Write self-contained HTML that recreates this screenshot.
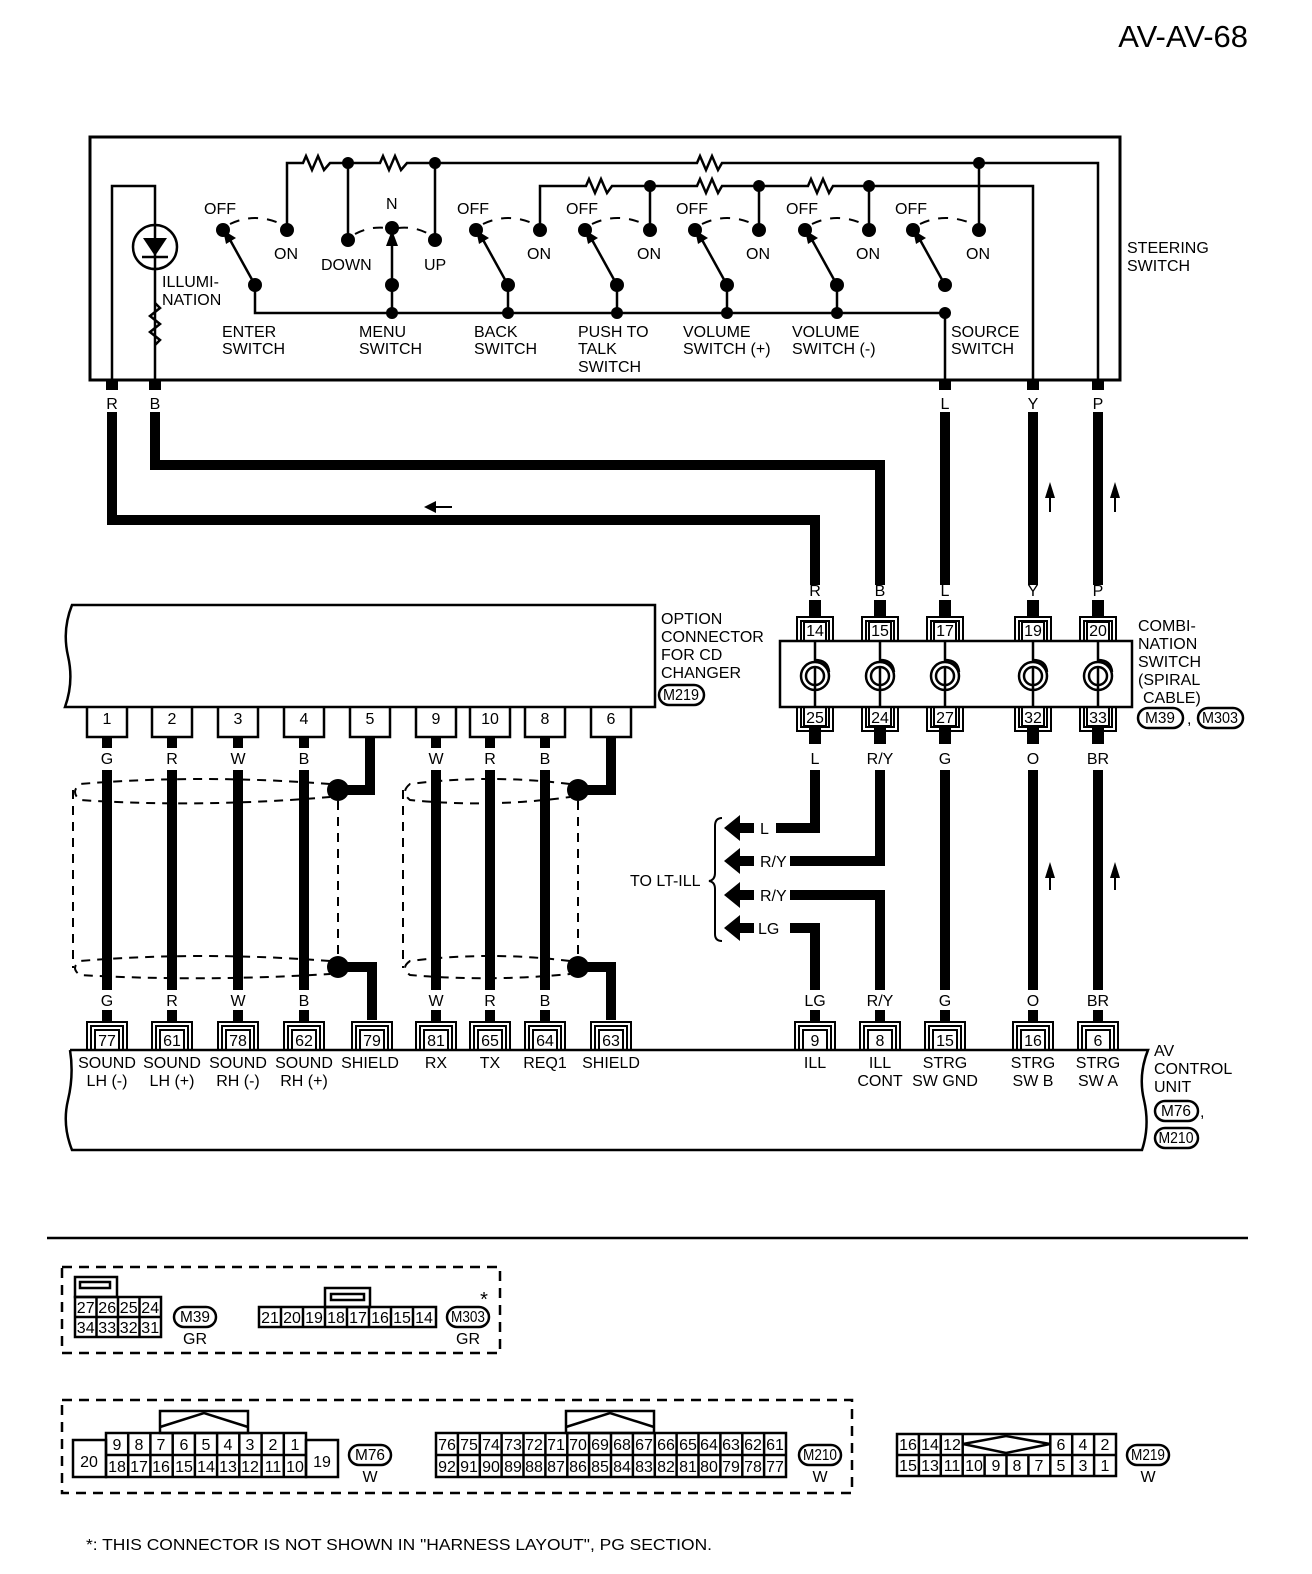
<!DOCTYPE html>
<html><head><meta charset="utf-8"><style>
html,body{margin:0;padding:0;background:#fff}
svg{display:block}
text{font-family:"Liberation Sans",sans-serif;font-size:16px;fill:#000}
.s{font-size:15px}
.t{font-size:13px}
.o{font-size:12px}
</style></head><body>
<svg width="1312" height="1574" viewBox="0 0 1312 1574" xmlns="http://www.w3.org/2000/svg">
<text x="1248" y="47" text-anchor="end" style="font-size:31px">AV-AV-68</text>

<rect x="90" y="137" width="1030" height="243" fill="none" stroke="#000" stroke-width="3"/>
<g fill="none" stroke="#000" stroke-width="2.5">
<polyline points="112,380 112,186 155,186 155,380"/>
<polyline points="287,230 287,163 303,163 306,156 312,170 318,156 324,170 330,163 380,163 383,156 389,170 395,156 401,170 407,163 697,163 700,156 706,170 712,156 718,170 722,163 1098,163 1098,380"/>
<line x1="348" y1="163" x2="348" y2="240"/>
<line x1="435" y1="163" x2="435" y2="240"/>
<line x1="979" y1="163" x2="979" y2="230"/>
<polyline points="540,230 540,186 586,186 589,179 595,193 601,179 607,193 612,186 697,186 700,179 706,193 712,179 718,193 722,186 808,186 811,179 817,193 823,179 829,193 833,186 1033,186 1033,380"/>
<line x1="650" y1="186" x2="650" y2="230"/>
<line x1="759" y1="186" x2="759" y2="230"/>
<line x1="869" y1="186" x2="869" y2="230"/>
<polyline points="255,285 255,313 945,313 945,380"/>
<line x1="392" y1="240" x2="392" y2="313"/>
<line x1="508" y1="285" x2="508" y2="313"/>
<line x1="617" y1="285" x2="617" y2="313"/>
<line x1="727" y1="285" x2="727" y2="313"/>
<line x1="837" y1="285" x2="837" y2="313"/>
<polyline points="155,303 160,308 150,316 160,324 150,332 160,340 155,345"/>
<line x1="255" y1="285" x2="229" y2="238"/>
<line x1="508" y1="285" x2="482" y2="238"/>
<line x1="617" y1="285" x2="591" y2="238"/>
<line x1="727" y1="285" x2="701" y2="238"/>
<line x1="837" y1="285" x2="811" y2="238"/>
<line x1="945" y1="285" x2="919" y2="238"/>
<g stroke-dasharray="10,9" stroke-width="2">
<path d="M230,224 Q255,212 281,224"/>
<path d="M483,224 Q508,212 534,224"/>
<path d="M592,224 Q617,212 644,224"/>
<path d="M702,224 Q727,212 753,224"/>
<path d="M812,224 Q837,212 863,224"/>
<path d="M920,224 Q945,212 973,224"/>
<path d="M355,234 Q370,226 386,228"/>
<path d="M398,228 Q414,226 429,234"/>
</g>
<circle cx="155" cy="247" r="22"/>
</g>
<polygon points="143,238 167,238 155,256" fill="#000"/>
<line x1="142" y1="257" x2="168" y2="257" stroke="#000" stroke-width="2.5"/>
<g fill="#000">
<polygon points="223,230 236,238 226,244"/>
<polygon points="476,230 489,238 479,244"/>
<polygon points="585,230 598,238 588,244"/>
<polygon points="695,230 708,238 698,244"/>
<polygon points="805,230 818,238 808,244"/>
<polygon points="913,230 926,238 916,244"/>
<polygon points="392,230 386,246 398,246"/>
<circle cx="223" cy="230" r="7"/><circle cx="287" cy="230" r="7"/><circle cx="255" cy="285" r="7"/>
<circle cx="348" cy="240" r="7"/><circle cx="392" cy="228" r="7"/><circle cx="435" cy="240" r="7"/><circle cx="392" cy="285" r="7"/>
<circle cx="476" cy="230" r="7"/><circle cx="540" cy="230" r="7"/><circle cx="508" cy="285" r="7"/>
<circle cx="585" cy="230" r="7"/><circle cx="650" cy="230" r="7"/><circle cx="617" cy="285" r="7"/>
<circle cx="695" cy="230" r="7"/><circle cx="759" cy="230" r="7"/><circle cx="727" cy="285" r="7"/>
<circle cx="805" cy="230" r="7"/><circle cx="869" cy="230" r="7"/><circle cx="837" cy="285" r="7"/>
<circle cx="913" cy="230" r="7"/><circle cx="979" cy="230" r="7"/><circle cx="945" cy="285" r="7"/>
<circle cx="348" cy="163" r="6"/><circle cx="435" cy="163" r="6"/><circle cx="979" cy="163" r="6"/>
<circle cx="650" cy="186" r="6"/><circle cx="759" cy="186" r="6"/><circle cx="869" cy="186" r="6"/>
<circle cx="392" cy="313" r="6"/><circle cx="508" cy="313" r="6"/><circle cx="617" cy="313" r="6"/><circle cx="727" cy="313" r="6"/><circle cx="837" cy="313" r="6"/><circle cx="945" cy="313" r="6"/>
<rect x="106" y="380" width="12" height="10"/><rect x="149" y="380" width="12" height="10"/><rect x="939" y="380" width="12" height="10"/><rect x="1027" y="380" width="12" height="10"/><rect x="1092" y="380" width="12" height="10"/>
</g>
<g class="s">
<text x="204" y="214">OFF</text><text x="274" y="259">ON</text>
<text x="386" y="209">N</text><text x="321" y="270">DOWN</text><text x="424" y="270">UP</text>
<text x="457" y="214">OFF</text><text x="527" y="259">ON</text>
<text x="566" y="214">OFF</text><text x="637" y="259">ON</text>
<text x="676" y="214">OFF</text><text x="746" y="259">ON</text>
<text x="786" y="214">OFF</text><text x="856" y="259">ON</text>
<text x="895" y="214">OFF</text><text x="966" y="259">ON</text>
<text x="162" y="287">ILLUMI-</text><text x="162" y="305">NATION</text>
<text x="222" y="337">ENTER</text><text x="222" y="354">SWITCH</text>
<text x="359" y="337">MENU</text><text x="359" y="354">SWITCH</text>
<text x="474" y="337">BACK</text><text x="474" y="354">SWITCH</text>
<text x="578" y="337">PUSH TO</text><text x="578" y="354">TALK</text><text x="578" y="372">SWITCH</text>
<text x="683" y="337">VOLUME</text><text x="683" y="354">SWITCH (+)</text>
<text x="792" y="337">VOLUME</text><text x="792" y="354">SWITCH (-)</text>
<text x="951" y="337">SOURCE</text><text x="951" y="354">SWITCH</text>
<text x="1127" y="253">STEERING</text><text x="1127" y="271">SWITCH</text>
</g>
<g class="s" text-anchor="middle">
<text x="112" y="409">R</text><text x="155" y="409">B</text><text x="945" y="409">L</text><text x="1033" y="409">Y</text><text x="1098" y="409">P</text>
<text x="815" y="596">R</text><text x="880" y="596">B</text><text x="945" y="596">L</text><text x="1033" y="596">Y</text><text x="1098" y="596">P</text>
<text x="815" y="764">L</text><text x="880" y="764">R/Y</text><text x="945" y="764">G</text><text x="1033" y="764">O</text><text x="1098" y="764">BR</text>
<text x="815" y="1006">LG</text><text x="880" y="1006">R/Y</text><text x="945" y="1006">G</text><text x="1033" y="1006">O</text><text x="1098" y="1006">BR</text>
<text x="107" y="764">G</text><text x="172" y="764">R</text><text x="238" y="764">W</text><text x="304" y="764">B</text>
<text x="436" y="764">W</text><text x="490" y="764">R</text><text x="545" y="764">B</text>
<text x="107" y="1006">G</text><text x="172" y="1006">R</text><text x="238" y="1006">W</text><text x="304" y="1006">B</text>
<text x="436" y="1006">W</text><text x="490" y="1006">R</text><text x="545" y="1006">B</text>
</g>

<g fill="none" stroke="#000" stroke-width="10" stroke-linejoin="miter">
<polyline points="112,412 112,520 815,520 815,585"/>
<polyline points="155,412 155,465 880,465 880,585"/>
<line x1="945" y1="412" x2="945" y2="585"/>
<line x1="1033" y1="412" x2="1033" y2="585"/>
<line x1="1098" y1="412" x2="1098" y2="585"/>
<polyline points="815,770 815,828 776,828"/>
<polyline points="880,770 880,861 790,861"/>
<polyline points="790,895 880,895 880,990"/>
<polyline points="790,928 815,928 815,990"/>
<line x1="945" y1="770" x2="945" y2="990"/>
<line x1="1033" y1="770" x2="1033" y2="990"/>
<line x1="1098" y1="770" x2="1098" y2="990"/>
<line x1="107" y1="770" x2="107" y2="990"/>
<line x1="172" y1="770" x2="172" y2="990"/>
<line x1="238" y1="770" x2="238" y2="990"/>
<line x1="304" y1="770" x2="304" y2="990"/>
<line x1="436" y1="770" x2="436" y2="990"/>
<line x1="490" y1="770" x2="490" y2="990"/>
<line x1="545" y1="770" x2="545" y2="990"/>
<polyline points="370,737 370,790 345,790"/>
<polyline points="345,967 372,967 372,1020"/>
<polyline points="611,737 611,790 585,790"/>
<polyline points="585,967 611,967 611,1020"/>
</g>
<g fill="#000">
<rect x="809" y="600" width="12" height="17"/><rect x="874" y="600" width="12" height="17"/><rect x="939" y="600" width="12" height="17"/><rect x="1027" y="600" width="12" height="17"/><rect x="1092" y="600" width="12" height="17"/>
<rect x="809" y="728" width="12" height="16"/><rect x="874" y="728" width="12" height="16"/><rect x="939" y="728" width="12" height="16"/><rect x="1027" y="728" width="12" height="16"/><rect x="1092" y="728" width="12" height="16"/>
<rect x="102" y="737" width="10" height="11"/><rect x="167" y="737" width="10" height="11"/><rect x="233" y="737" width="10" height="11"/><rect x="299" y="737" width="10" height="11"/>
<rect x="431" y="737" width="10" height="11"/><rect x="485" y="737" width="10" height="11"/><rect x="540" y="737" width="10" height="11"/>
<rect x="102" y="1010" width="10" height="12"/><rect x="167" y="1010" width="10" height="12"/><rect x="233" y="1010" width="10" height="12"/><rect x="299" y="1010" width="10" height="12"/>
<rect x="431" y="1010" width="10" height="12"/><rect x="485" y="1010" width="10" height="12"/><rect x="540" y="1010" width="10" height="12"/>
<rect x="810" y="1010" width="10" height="12"/><rect x="875" y="1010" width="10" height="12"/><rect x="940" y="1010" width="10" height="12"/><rect x="1028" y="1010" width="10" height="12"/><rect x="1093" y="1010" width="10" height="12"/>
<circle cx="338" cy="790" r="11"/><circle cx="338" cy="967" r="11"/>
<circle cx="578" cy="790" r="11"/><circle cx="578" cy="967" r="11"/>
<polygon points="724,828 740,815 740,841"/><rect x="738" y="823" width="16" height="10"/>
<polygon points="724,861 740,848 740,874"/><rect x="738" y="856" width="16" height="10"/>
<polygon points="724,895 740,882 740,908"/><rect x="738" y="890" width="16" height="10"/>
<polygon points="724,928 740,915 740,941"/><rect x="738" y="923" width="16" height="10"/>
<polygon points="424,507 436,501 436,513"/>
<polygon points="1050,482 1045,498 1055,498"/><polygon points="1115,482 1110,498 1120,498"/>
<polygon points="1050,862 1045,878 1055,878"/><polygon points="1115,862 1110,878 1120,878"/>
</g>
<g stroke="#000" stroke-width="2">
<line x1="436" y1="507" x2="452" y2="507"/>
<line x1="1050" y1="495" x2="1050" y2="512"/><line x1="1115" y1="495" x2="1115" y2="512"/>
<line x1="1050" y1="875" x2="1050" y2="890"/><line x1="1115" y1="875" x2="1115" y2="890"/>
<path d="M722,818 Q715,818 715,826 L715,873 Q715,880 709,881 Q715,882 715,889 L715,934 Q715,941 722,941" fill="none"/>
</g>
<g class="s">
<text x="760" y="834">L</text><text x="760" y="867">R/Y</text><text x="760" y="901">R/Y</text><text x="758" y="934">LG</text>
<text x="630" y="886">TO LT-ILL</text>
</g>

<g fill="none" stroke="#000" stroke-width="2" stroke-dasharray="9,7">
<path d="M330,784 Q200,774 80,784 Q70,792 80,800 Q200,808 330,797"/>
<path d="M330,961 Q200,951 80,961 Q70,968 80,975 Q200,982 330,974"/>
<line x1="73" y1="790" x2="73" y2="968"/>
<line x1="338" y1="801" x2="338" y2="956"/>
<path d="M570,784 Q490,774 410,784 Q400,792 410,800 Q490,808 570,797"/>
<path d="M570,961 Q490,951 410,961 Q400,968 410,975 Q490,982 570,974"/>
<line x1="403" y1="790" x2="403" y2="968"/>
<line x1="578" y1="801" x2="578" y2="956"/>
</g>

<g fill="none" stroke="#000" stroke-width="2.5">
<path d="M655,605 L72,605 Q62,630 68,656 Q74,682 65,707 L655,707 Z"/>
<path d="M87,707 V737 H127 V707"/><path d="M152,707 V737 H192 V707"/><path d="M218,707 V737 H258 V707"/><path d="M284,707 V737 H324 V707"/><path d="M350,707 V737 H390 V707"/>
<path d="M416,707 V737 H456 V707"/><path d="M470,707 V737 H510 V707"/><path d="M525,707 V737 H565 V707"/><path d="M591,707 V737 H631 V707"/>
<rect x="780" y="641" width="352" height="66"/>
</g>
<g class="t" text-anchor="middle">
<text x="107" y="724">1</text><text x="172" y="724">2</text><text x="238" y="724">3</text><text x="304" y="724">4</text><text x="370" y="724">5</text>
<text x="436" y="724">9</text><text x="490" y="724">10</text><text x="545" y="724">8</text><text x="611" y="724">6</text>
</g>
<g class="s">
<text x="661" y="624">OPTION</text><text x="661" y="642">CONNECTOR</text><text x="661" y="660">FOR CD</text><text x="661" y="678">CHANGER</text>
<text x="1138" y="631">COMBI-</text><text x="1138" y="649">NATION</text><text x="1138" y="667">SWITCH</text><text x="1138" y="685">(SPIRAL</text><text x="1143" y="703">CABLE)</text>
<text x="1187" y="724">,</text>
<text x="1154" y="1056">AV</text><text x="1154" y="1074">CONTROL</text><text x="1154" y="1092">UNIT</text><text x="1200" y="1117">,</text>
</g>
<g fill="none" stroke="#000" stroke-width="2.5">
<rect x="659" y="685" width="45" height="20" rx="10"/>
<rect x="1138" y="708" width="45" height="20" rx="10"/>
<rect x="1198" y="708" width="45" height="20" rx="10"/>
<rect x="1155" y="1101" width="43" height="20" rx="10"/>
<rect x="1155" y="1128" width="43" height="20" rx="10"/>
</g>
<g class="o" text-anchor="middle">
<text x="681" y="700" textLength="36" lengthAdjust="spacingAndGlyphs">M219</text>
<text x="1160" y="723" textLength="30" lengthAdjust="spacingAndGlyphs">M39</text>
<text x="1220" y="723" textLength="36" lengthAdjust="spacingAndGlyphs">M303</text>
<text x="1176" y="1116" textLength="30" lengthAdjust="spacingAndGlyphs">M76</text>
<text x="1176" y="1143" textLength="35" lengthAdjust="spacingAndGlyphs">M210</text>
</g>

<g fill="none" stroke="#000" stroke-width="2">
<path d="M797,641 V617 H833 V641 M801,641 V621 H829 V641"/><rect x="804" y="622" width="22" height="19"/>
<path d="M862,641 V617 H898 V641 M866,641 V621 H894 V641"/><rect x="869" y="622" width="22" height="19"/>
<path d="M927,641 V617 H963 V641 M931,641 V621 H959 V641"/><rect x="934" y="622" width="22" height="19"/>
<path d="M1015,641 V617 H1051 V641 M1019,641 V621 H1047 V641"/><rect x="1022" y="622" width="22" height="19"/>
<path d="M1080,641 V617 H1116 V641 M1084,641 V621 H1112 V641"/><rect x="1087" y="622" width="22" height="19"/>
<path d="M797,707 V731 H833 V707 M801,707 V727 H829 V707"/><rect x="804" y="707" width="22" height="19"/>
<path d="M862,707 V731 H898 V707 M866,707 V727 H894 V707"/><rect x="869" y="707" width="22" height="19"/>
<path d="M927,707 V731 H963 V707 M931,707 V727 H959 V707"/><rect x="934" y="707" width="22" height="19"/>
<path d="M1015,707 V731 H1051 V707 M1019,707 V727 H1047 V707"/><rect x="1022" y="707" width="22" height="19"/>
<path d="M1080,707 V731 H1116 V707 M1084,707 V727 H1112 V707"/><rect x="1087" y="707" width="22" height="19"/>
<g stroke-width="2.5">
<circle cx="815" cy="676" r="14"/><circle cx="815" cy="676" r="9"/><path d="M815,641 V660 Q828,660 829,672 M815,666 V707"/>
<circle cx="880" cy="676" r="14"/><circle cx="880" cy="676" r="9"/><path d="M880,641 V660 Q893,660 894,672 M880,666 V707"/>
<circle cx="945" cy="676" r="14"/><circle cx="945" cy="676" r="9"/><path d="M945,641 V660 Q958,660 959,672 M945,666 V707"/>
<circle cx="1033" cy="676" r="14"/><circle cx="1033" cy="676" r="9"/><path d="M1033,641 V660 Q1046,660 1047,672 M1033,666 V707"/>
<circle cx="1098" cy="676" r="14"/><circle cx="1098" cy="676" r="9"/><path d="M1098,641 V660 Q1111,660 1112,672 M1098,666 V707"/>
</g>
</g>
<g class="t" text-anchor="middle">
<text x="815" y="636">14</text><text x="880" y="636">15</text><text x="945" y="636">17</text><text x="1033" y="636">19</text><text x="1098" y="636">20</text>
<text x="815" y="723">25</text><text x="880" y="723">24</text><text x="945" y="723">27</text><text x="1033" y="723">32</text><text x="1098" y="723">33</text>
</g>

<g fill="none" stroke="#000" stroke-width="2.5">
<path d="M70,1050 L1148,1050 Q1138,1075 1144,1100 Q1150,1126 1142,1150 L72,1150 Q62,1125 68,1100 Q74,1075 70,1050"/>
</g>
<g fill="none" stroke="#000" stroke-width="2">
<path d="M87,1050 V1022 H127 V1050 M91,1050 V1026 H123 V1050"/><rect x="95" y="1030" width="24" height="20"/>
<path d="M152,1050 V1022 H192 V1050 M156,1050 V1026 H188 V1050"/><rect x="160" y="1030" width="24" height="20"/>
<path d="M218,1050 V1022 H258 V1050 M222,1050 V1026 H254 V1050"/><rect x="226" y="1030" width="24" height="20"/>
<path d="M284,1050 V1022 H324 V1050 M288,1050 V1026 H320 V1050"/><rect x="292" y="1030" width="24" height="20"/>
<path d="M352,1050 V1022 H392 V1050 M356,1050 V1026 H388 V1050"/><rect x="360" y="1030" width="24" height="20"/>
<path d="M416,1050 V1022 H456 V1050 M420,1050 V1026 H452 V1050"/><rect x="424" y="1030" width="24" height="20"/>
<path d="M470,1050 V1022 H510 V1050 M474,1050 V1026 H506 V1050"/><rect x="478" y="1030" width="24" height="20"/>
<path d="M525,1050 V1022 H565 V1050 M529,1050 V1026 H561 V1050"/><rect x="533" y="1030" width="24" height="20"/>
<path d="M591,1050 V1022 H631 V1050 M595,1050 V1026 H627 V1050"/><rect x="599" y="1030" width="24" height="20"/>
<path d="M795,1050 V1022 H835 V1050 M799,1050 V1026 H831 V1050"/><rect x="803" y="1030" width="24" height="20"/>
<path d="M860,1050 V1022 H900 V1050 M864,1050 V1026 H896 V1050"/><rect x="868" y="1030" width="24" height="20"/>
<path d="M925,1050 V1022 H965 V1050 M929,1050 V1026 H961 V1050"/><rect x="933" y="1030" width="24" height="20"/>
<path d="M1013,1050 V1022 H1053 V1050 M1017,1050 V1026 H1049 V1050"/><rect x="1021" y="1030" width="24" height="20"/>
<path d="M1078,1050 V1022 H1118 V1050 M1082,1050 V1026 H1114 V1050"/><rect x="1086" y="1030" width="24" height="20"/>
</g>
<g class="t" text-anchor="middle">
<text x="107" y="1046">77</text><text x="172" y="1046">61</text><text x="238" y="1046">78</text><text x="304" y="1046">62</text><text x="372" y="1046">79</text>
<text x="436" y="1046">81</text><text x="490" y="1046">65</text><text x="545" y="1046">64</text><text x="611" y="1046">63</text>
<text x="815" y="1046">9</text><text x="880" y="1046">8</text><text x="945" y="1046">15</text><text x="1033" y="1046">16</text><text x="1098" y="1046">6</text>
</g>
<g class="s" text-anchor="middle">
<text x="107" y="1068">SOUND</text><text x="107" y="1086">LH (-)</text>
<text x="172" y="1068">SOUND</text><text x="172" y="1086">LH (+)</text>
<text x="238" y="1068">SOUND</text><text x="238" y="1086">RH (-)</text>
<text x="304" y="1068">SOUND</text><text x="304" y="1086">RH (+)</text>
<text x="370" y="1068">SHIELD</text><text x="436" y="1068">RX</text><text x="490" y="1068">TX</text><text x="545" y="1068">REQ1</text><text x="611" y="1068">SHIELD</text>
<text x="815" y="1068">ILL</text><text x="880" y="1068">ILL</text><text x="880" y="1086">CONT</text>
<text x="945" y="1068">STRG</text><text x="945" y="1086">SW GND</text>
<text x="1033" y="1068">STRG</text><text x="1033" y="1086">SW B</text>
<text x="1098" y="1068">STRG</text><text x="1098" y="1086">SW A</text>
</g>

<line x1="47" y1="1238" x2="1248" y2="1238" stroke="#000" stroke-width="2.5"/>

<g fill="none" stroke="#000" stroke-width="2.5">
<rect x="62" y="1267" width="438" height="86" stroke-dasharray="10,7"/>
<rect x="62" y="1400" width="790" height="93" stroke-dasharray="10,7"/>
<rect x="75" y="1297" width="86" height="40"/><line x1="75" y1="1317" x2="161" y2="1317"/>
<line x1="96.5" y1="1297" x2="96.5" y2="1337"/><line x1="118" y1="1297" x2="118" y2="1337"/><line x1="139.5" y1="1297" x2="139.5" y2="1337"/>
<rect x="75" y="1277" width="42" height="20"/><rect x="80" y="1282" width="30" height="6"/>
<rect x="174" y="1307" width="42" height="20" rx="10"/>
<rect x="259" y="1307" width="177" height="20"/>
<path d="M281,1307 V1327 M303,1307 V1327 M325,1307 V1327 M347,1307 V1327 M369,1307 V1327 M391,1307 V1327 M413,1307 V1327"/>
<rect x="325" y="1288" width="45" height="19"/><rect x="331" y="1294" width="33" height="6"/>
<rect x="447" y="1307" width="42" height="20" rx="10"/>
<rect x="73" y="1440" width="33" height="37"/><rect x="306" y="1440" width="32" height="37"/>
<rect x="106" y="1433" width="200" height="44"/><line x1="106" y1="1455" x2="306" y2="1455"/>
<path d="M128.2,1433 V1477 M150.4,1433 V1477 M172.7,1433 V1477 M194.9,1433 V1477 M217.1,1433 V1477 M239.3,1433 V1477 M261.6,1433 V1477 M283.8,1433 V1477"/>
<rect x="160" y="1411" width="88" height="22"/><polyline points="160,1427 204,1413 248,1427"/>
<rect x="349" y="1445" width="42" height="20" rx="10"/>
<rect x="436" y="1433" width="350" height="44"/><line x1="436" y1="1455" x2="786" y2="1455"/>
<path d="M457.9,1433V1477M479.8,1433V1477M501.6,1433V1477M523.5,1433V1477M545.4,1433V1477M567.3,1433V1477M589.1,1433V1477M611,1433V1477M632.9,1433V1477M654.8,1433V1477M676.6,1433V1477M698.5,1433V1477M720.4,1433V1477M742.3,1433V1477M764.1,1433V1477"/>
<rect x="566" y="1411" width="88" height="22"/><polyline points="566,1427 610,1413 654,1427"/>
<rect x="799" y="1445" width="42" height="20" rx="10"/>
<rect x="897" y="1434" width="219" height="42"/><line x1="897" y1="1455" x2="1116" y2="1455"/>
<path d="M918.9,1434V1476M940.8,1434V1476M962.7,1434V1476M1050.3,1434V1476M1072.2,1434V1476M1094.1,1434V1476M984.6,1455V1476M1006.5,1455V1476M1028.4,1455V1476"/>
<polygon points="963,1444 1006,1436 1050,1444 1006,1453"/>
<rect x="1127" y="1445" width="42" height="20" rx="10"/>
</g>
<g class="t" text-anchor="middle">
<text x="85.7" y="1313">27</text><text x="107.2" y="1313">26</text><text x="128.7" y="1313">25</text><text x="150.2" y="1313">24</text>
<text x="85.7" y="1333">34</text><text x="107.2" y="1333">33</text><text x="128.7" y="1333">32</text><text x="150.2" y="1333">31</text>
<text x="270" y="1323">21</text><text x="292" y="1323">20</text><text x="314" y="1323">19</text><text x="336" y="1323">18</text><text x="358" y="1323">17</text><text x="380" y="1323">16</text><text x="402" y="1323">15</text><text x="424" y="1323">14</text>
</g>
<g class="o" text-anchor="middle">
<text x="195" y="1322" textLength="30" lengthAdjust="spacingAndGlyphs">M39</text>
<text x="468" y="1322" textLength="34" lengthAdjust="spacingAndGlyphs">M303</text>
<text x="370" y="1460" textLength="30" lengthAdjust="spacingAndGlyphs">M76</text>
<text x="820" y="1460" textLength="34" lengthAdjust="spacingAndGlyphs">M210</text>
<text x="1148" y="1460" textLength="34" lengthAdjust="spacingAndGlyphs">M219</text>
</g>
<g class="s" text-anchor="middle">
<text x="195" y="1344">GR</text><text x="468" y="1344">GR</text><text x="484" y="1306" style="font-size:20px">*</text>
<text x="89" y="1467">20</text><text x="322" y="1467">19</text>
<text x="370" y="1482">W</text><text x="820" y="1482">W</text><text x="1148" y="1482">W</text>
</g>
<g class="t" text-anchor="middle">
<text x="117" y="1450">9</text><text x="139" y="1450">8</text><text x="161" y="1450">7</text><text x="184" y="1450">6</text><text x="206" y="1450">5</text><text x="228" y="1450">4</text><text x="250" y="1450">3</text><text x="273" y="1450">2</text><text x="295" y="1450">1</text>
<text x="117" y="1472">18</text><text x="139" y="1472">17</text><text x="161" y="1472">16</text><text x="184" y="1472">15</text><text x="206" y="1472">14</text><text x="228" y="1472">13</text><text x="250" y="1472">12</text><text x="273" y="1472">11</text><text x="295" y="1472">10</text>
<text x="447" y="1450">76</text><text x="469" y="1450">75</text><text x="491" y="1450">74</text><text x="513" y="1450">73</text><text x="534" y="1450">72</text><text x="556" y="1450">71</text><text x="578" y="1450">70</text><text x="600" y="1450">69</text><text x="622" y="1450">68</text><text x="644" y="1450">67</text><text x="666" y="1450">66</text><text x="688" y="1450">65</text><text x="709" y="1450">64</text><text x="731" y="1450">63</text><text x="753" y="1450">62</text><text x="775" y="1450">61</text>
<text x="447" y="1472">92</text><text x="469" y="1472">91</text><text x="491" y="1472">90</text><text x="513" y="1472">89</text><text x="534" y="1472">88</text><text x="556" y="1472">87</text><text x="578" y="1472">86</text><text x="600" y="1472">85</text><text x="622" y="1472">84</text><text x="644" y="1472">83</text><text x="666" y="1472">82</text><text x="688" y="1472">81</text><text x="709" y="1472">80</text><text x="731" y="1472">79</text><text x="753" y="1472">78</text><text x="775" y="1472">77</text>
<text x="908" y="1450">16</text><text x="930" y="1450">14</text><text x="952" y="1450">12</text><text x="1061" y="1450">6</text><text x="1083" y="1450">4</text><text x="1105" y="1450">2</text>
<text x="908" y="1471">15</text><text x="930" y="1471">13</text><text x="952" y="1471">11</text><text x="974" y="1471">10</text><text x="996" y="1471">9</text><text x="1017" y="1471">8</text><text x="1039" y="1471">7</text><text x="1061" y="1471">5</text><text x="1083" y="1471">3</text><text x="1105" y="1471">1</text>
</g>
<text x="86" y="1550" style="font-size:16px" textLength="626" lengthAdjust="spacingAndGlyphs">*: THIS CONNECTOR IS NOT SHOWN IN "HARNESS LAYOUT", PG SECTION.</text>
</svg>
</body></html>
